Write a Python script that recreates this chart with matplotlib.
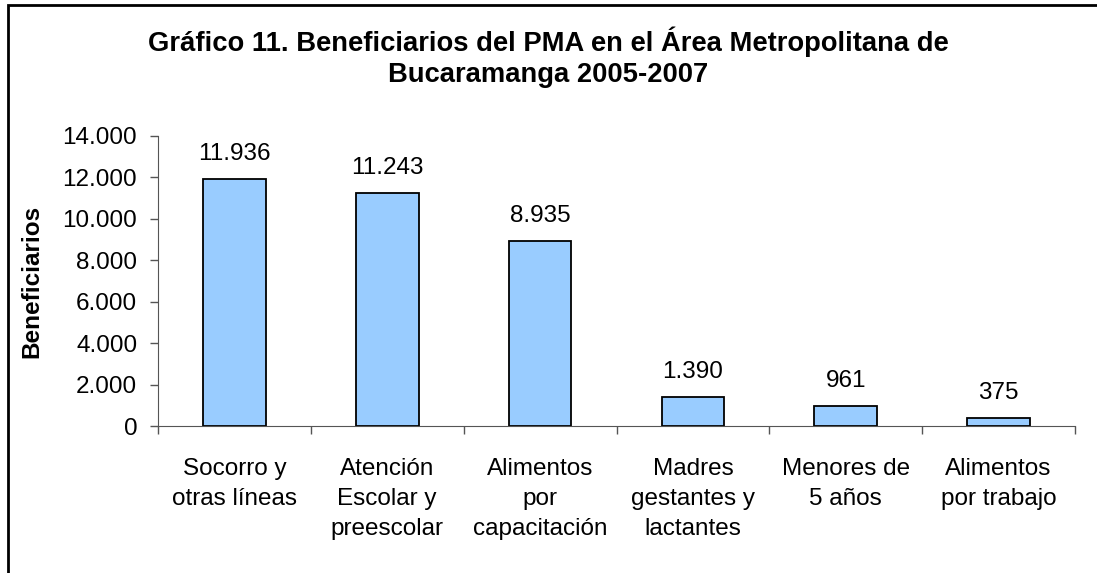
import matplotlib.pyplot as plt
from matplotlib.patches import Rectangle
from matplotlib.ticker import FuncFormatter

plt.rcParams['font.family'] = ['Liberation Sans', 'DejaVu Sans']

# Datos
categorias = ['Socorro y\notras líneas', 'Atención\nEscolar y\npreescolar',
              'Alimentos\npor\ncapacitación', 'Madres\ngestantes y\nlactantes',
              'Menores de\n5 años', 'Alimentos\npor trabajo']
beneficiarios = [11936, 11243, 8935, 1390, 961, 375]
etiquetas = ['11.936', '11.243', '8.935', '1.390', '961', '375']

fig = plt.figure(figsize=(10.97, 5.73), dpi=100)
ax = fig.add_axes([0.144, 0.2565, 0.836, 0.5062])

x = range(len(categorias))
ax.bar(x, beneficiarios, width=0.41, color='#99ccff', edgecolor='black', linewidth=1.3)

for i, (v, t) in enumerate(zip(beneficiarios, etiquetas)):
    ax.annotate(t, (i, v), xytext=(0, 10), textcoords='offset points',
                ha='center', va='bottom', fontsize=17.5)

ax.set_xlim(-0.5, len(categorias) - 0.5)
ax.set_ylim(0, 14000)
ax.set_yticks(range(0, 14001, 2000))
ax.yaxis.set_major_formatter(FuncFormatter(lambda v, p: f'{int(v):,}'.replace(',', '.')))
ax.tick_params(axis='y', labelsize=17.5, length=6, width=1, direction='out', pad=9,
               color='#555555')

ax.set_xticks(list(x))
ax.set_xticklabels(categorias, fontsize=17.5, linespacing=1.48, va='top')
ax.tick_params(axis='x', which='major', length=0, pad=23)
ax.set_xticks([i - 0.5 for i in range(len(categorias) + 1)], minor=True)
ax.tick_params(axis='x', which='minor', length=6, width=1, direction='out', color='#555555')

for s in ['top', 'right']:
    ax.spines[s].set_visible(False)
ax.spines['left'].set_color('#555555')
ax.spines['bottom'].set_color('#555555')

ax.set_ylabel('Beneficiarios', fontsize=17.5, fontweight='bold', labelpad=14)

fig.text(0.5, 0.9005, 'Gráfico 11. Beneficiarios del PMA en el Área Metropolitana de\nBucaramanga 2005-2007',
         ha='center', va='center', fontsize=19.7, fontweight='bold', linespacing=1.25)

# Marco exterior (sale por la derecha y por abajo)
fig.patches.append(Rectangle((0.0075, -0.05), 1.1, 1.041, transform=fig.transFigure,
                             fill=False, edgecolor='black', linewidth=2))

fig.savefig('out.png', dpi=100)
